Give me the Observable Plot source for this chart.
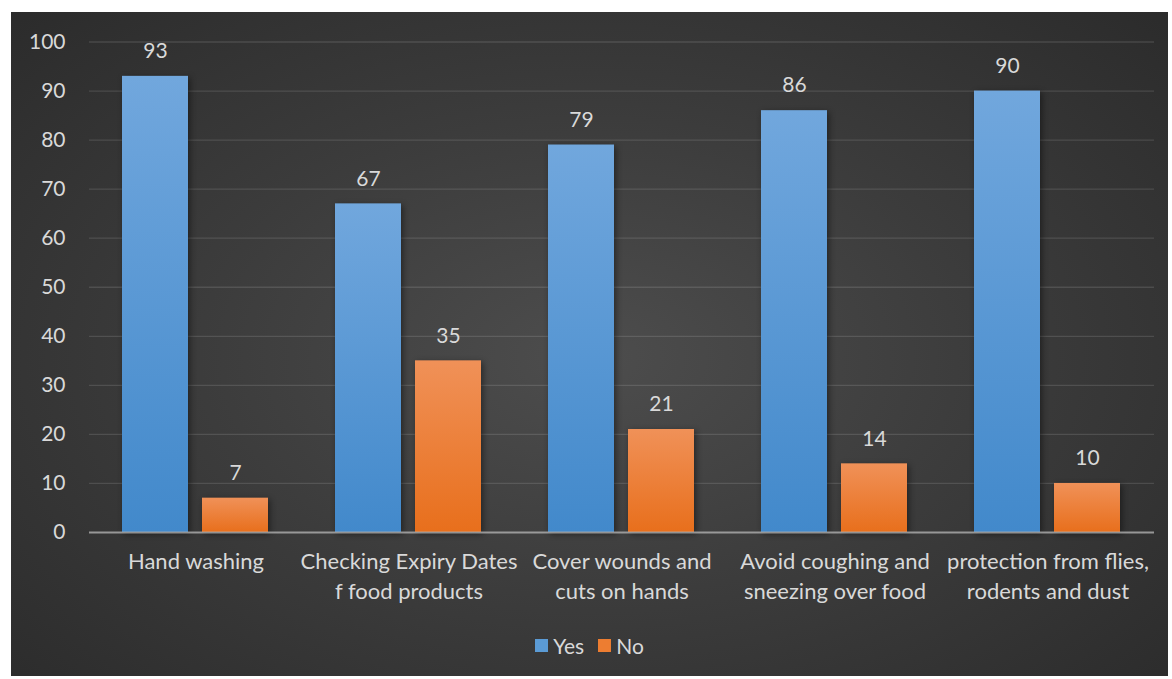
<!DOCTYPE html>
<html>
<head>
<meta charset="utf-8">
<script src="https://cdn.jsdelivr.net/npm/d3@7"></script>
<script src="https://cdn.jsdelivr.net/npm/@observablehq/plot@0.6"></script>
<style>
  html, body { margin: 0; padding: 0; background: #ffffff; }
  #frame {
    position: absolute; left: 11px; top: 12px; width: 1157px; height: 664px;
    background: radial-gradient(ellipse 75% 80% at 50% 52%, #4d4d4d 0%, #3c3c3c 45%, #292929 100%);
    font-family: Lato, "Open Sans", sans-serif; overflow: hidden;
  }
  #chart { position: absolute; left: 0; top: 0; }
  #legend {
    position: absolute; left: 0; width: 100%; top: 620px; height: 26px;
    display: flex; justify-content: center; align-items: center; gap: 14px;
    color: #d9d9d9; font-size: 21px;
  }
  #legend .item { display: flex; align-items: center; gap: 5px; }
  #legend .sw { width: 13px; height: 13px; display: inline-block; }
  .bar rect { filter: drop-shadow(2px 2px 3px rgba(0,0,0,0.45)); }
</style>
</head>
<body>
<div id="frame">
  <div id="chart"></div>
  <div id="legend"></div>
</div>
<script>
const categories = [
  "Hand washing",
  "Checking Expiry Dates\nf food products",
  "Cover wounds and\ncuts on hands",
  "Avoid coughing and\nsneezing over food",
  "protection from flies,\nrodents and dust"
];
const seriesNames = ["Yes", "No"];
const yesValues = [93, 67, 79, 86, 90];
const noValues = [7, 35, 21, 14, 10];
const yTicks = [0, 10, 20, 30, 40, 50, 60, 70, 80, 90, 100];
const seriesColors = ["#5b9bd5", "#ed7d31"];

const rows = categories.flatMap((c, i) => [
  {cat: c, series: "Yes", value: yesValues[i]},
  {cat: c, series: "No", value: noValues[i]}
]);

const textColor = "#d9d9d9";

const chart = Plot.plot({
  width: 1157,
  height: 600,
  marginLeft: 76,
  marginRight: 12,
  marginTop: 29.5,
  marginBottom: 80,
  style: {background: "transparent", fontFamily: "Lato, 'Open Sans', sans-serif", overflow: "visible"},
  fx: {domain: categories, padding: 0, axis: null, label: null},
  x: {domain: seriesNames, paddingInner: 0.173, paddingOuter: 0.407, axis: null, label: null},
  y: {domain: [0, 100], axis: null, label: null},
  marks: [
    Plot.gridY(yTicks, {stroke: "#ffffff", strokeOpacity: 0.12, strokeWidth: 1.3}),
    Plot.axisY(yTicks, {tickSize: 0, tickPadding: 24, fontSize: 21, fill: textColor, tickFormat: d => d, label: null}),
    Plot.barY(rows.filter(d => d.series === "Yes"), {fx: "cat", x: "series", y: "value", fill: "url(#gYes)", className: "bar"}),
    Plot.barY(rows.filter(d => d.series === "No"), {fx: "cat", x: "series", y: "value", fill: "url(#gNo)", className: "bar"}),
    Plot.ruleY([0], {stroke: "#b0b0b0", strokeOpacity: 0.75, strokeWidth: 2}),
    Plot.text(rows, {fx: "cat", x: "series", y: "value", text: d => String(d.value), dy: -25, fontSize: 21, fill: textColor}),
    Plot.text(categories, {fx: d => d, text: d => d, frameAnchor: "bottom", lineAnchor: "top", dy: 16, fontSize: 22, lineHeight: 1.34, fill: textColor})
  ]
});

const svg = d3.select(chart);
const defs = svg.insert("defs", ":first-child");
const gy = defs.append("linearGradient").attr("id", "gYes").attr("x1", 0).attr("y1", 0).attr("x2", 0).attr("y2", 1);
gy.append("stop").attr("offset", "0%").attr("stop-color", "#71a7dd");
gy.append("stop").attr("offset", "100%").attr("stop-color", "#4289cb");
const gn = defs.append("linearGradient").attr("id", "gNo").attr("x1", 0).attr("y1", 0).attr("x2", 0).attr("y2", 1);
gn.append("stop").attr("offset", "0%").attr("stop-color", "#f09158");
gn.append("stop").attr("offset", "100%").attr("stop-color", "#e86f1c");

document.getElementById("chart").appendChild(chart);

const legend = d3.select("#legend");
seriesNames.forEach((s, i) => {
  const item = legend.append("div").attr("class", "item");
  item.append("span").attr("class", "sw").style("background", seriesColors[i]);
  item.append("span").text(s);
});
</script>
</body>
</html>
